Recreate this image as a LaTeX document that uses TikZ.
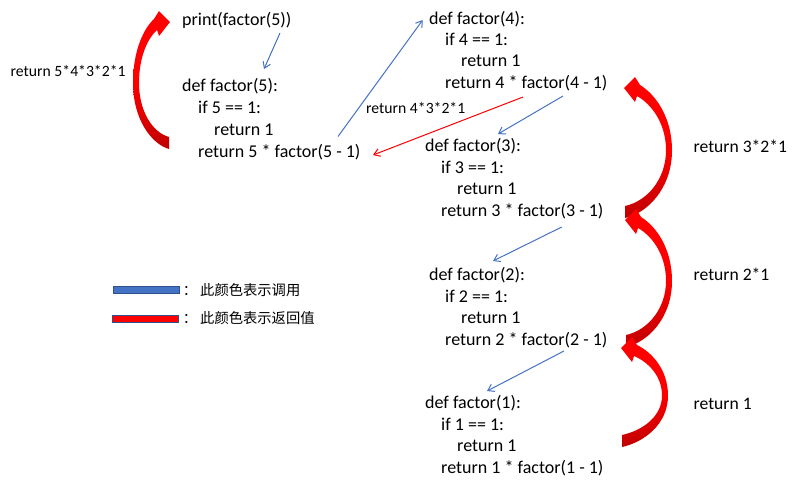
\documentclass[tikz,border=0pt]{standalone}
\usepackage{fontspec}
\setmainfont{Carlito}
\newfontfamily\cjk{Noto Sans CJK SC}
\usetikzlibrary{arrows.meta}
\definecolor{callblue}{RGB}{68,114,196}
\definecolor{edgeblue}{RGB}{47,82,143}
\definecolor{tailred}{RGB}{192,0,0}
% curved block arrow: #1 tip x, #2 tip y, #3 tail bottom y, #4 bulge x, #5 side (+1 right, -1 left)
\newcommand\redarc[5]{%
 \pgfmathsetmacro\RAa{#1}%
 \pgfmathsetmacro\RAb{#2}%
 \pgfmathsetmacro\RAc{#3}%
 \pgfmathsetmacro\RAd{#4}%
 \pgfmathsetmacro\RAs{#5}%
 \pgfmathsetmacro\RAm{\RAb+0.48*(\RAc-\RAb)}%
 \pgfmathsetmacro\RAnox{\RAa+16*\RAs}%
 \pgfmathsetmacro\RAnoy{\RAb-3}%
 \pgfmathsetmacro\RAnix{\RAa+13*\RAs}%
 \pgfmathsetmacro\RAniy{\RAb+8}%
 \pgfmathsetmacro\RAdi{\RAd-6*\RAs}%
 \pgfmathsetmacro\RAtx{\RAa+\RAs}%
 \pgfmathsetmacro\RAhx{\RAa+0.5*(\RAd-\RAa)}%
 \path[redgrad] (\RAa,\RAb) -- ({\RAa+11*\RAs},{\RAb-11}) -- (\RAnox,\RAnoy)
   .. controls ({\RAnox+0.5*(\RAd-\RAnox)},{\RAnoy+0.15*(\RAm-\RAnoy)}) and (\RAd,{\RAm-0.5*(\RAm-\RAnoy)}) .. (\RAd,\RAm)
   .. controls (\RAd,{\RAm+0.55*(\RAc-\RAm)}) and (\RAhx,{\RAc-5}) .. (\RAtx,\RAc)
   -- (\RAtx,{\RAc-12})
   .. controls (\RAhx,{\RAc-17}) and (\RAdi,{\RAm+0.5*(\RAc-12-\RAm)}) .. (\RAdi,\RAm)
   .. controls (\RAdi,{\RAm-0.5*(\RAm-\RAniy)}) and ({\RAnix+0.5*(\RAdi-\RAnix)},{\RAniy+0.15*(\RAm-\RAniy)}) .. (\RAnix,\RAniy)
   -- ({\RAa+11*\RAs},{\RAb+14}) -- cycle;
}
\begin{document}
\begin{tikzpicture}[x=1pt,y=-1pt,
  code/.style={anchor=base west,inner sep=0pt,font=\fontsize{18}{22}\selectfont},
  lbl/.style={anchor=base west,inner sep=0pt,font=\fontsize{15.7}{19}\selectfont},
  rlbl/.style={anchor=base west,inner sep=0pt,font=\fontsize{17.6}{21}\selectfont},
  leg/.style={anchor=base west,inner sep=0pt,font=\cjk\fontsize{14.3}{17}\selectfont},
  legbar/.style={line width=1pt,draw=edgeblue,minimum width=66pt,minimum height=6.6pt,inner sep=0pt,outer sep=0pt,anchor=north west},
  call/.style={draw=callblue,line width=1pt,-{Straight Barb[length=6pt,width=8pt]}},
  ret/.style={draw=red,line width=1pt,-{Straight Barb[length=6pt,width=8pt]}},
  redgrad/.style={top color=red,bottom color=tailred,middle color=red}]
\useasboundingbox (0,0) rectangle (792,483);

% code blocks
\node[code] (p5) at (182,25.7) {print(factor(5))};
\node[code] (f5a) at (182,91) {def factor(5):};
\node[code] (f5b) at (198,113) {if 5 == 1:};
\node[code] (f5c) at (214,135) {return 1};
\node[code] (f5d) at (198,157) {return 5 * factor(5 - 1)};

\node[code] (f4a) at (429,24) {def factor(4):};
\node[code] (f4b) at (445,45.3) {if 4 == 1:};
\node[code] (f4c) at (461,66.6) {return 1};
\node[code] (f4d) at (445,88) {return 4 * factor(4 - 1)};

\node[code] (f3a) at (425,151.7) {def factor(3):};
\node[code] (f3b) at (441,173) {if 3 == 1:};
\node[code] (f3c) at (457,194.5) {return 1};
\node[code] (f3d) at (441,216) {return 3 * factor(3 - 1)};

\node[code] (f2a) at (429,280.7) {def factor(2):};
\node[code] (f2b) at (445,302) {if 2 == 1:};
\node[code] (f2c) at (461,323.5) {return 1};
\node[code] (f2d) at (445,345) {return 2 * factor(2 - 1)};

\node[code] (f1a) at (425,408) {def factor(1):};
\node[code] (f1b) at (441,430) {if 1 == 1:};
\node[code] (f1c) at (457,451.5) {return 1};
\node[code] (f1d) at (441,473) {return 1 * factor(1 - 1)};

% return labels
\node[lbl] (r5) at (10.5,76.7) {return 5*4*3*2*1};
\node[lbl] (r4) at (366,113) {return 4*3*2*1};
\node[rlbl] (r3) at (693.5,152.3) {return 3*2*1};
\node[rlbl] (r2) at (693.5,280.7) {return 2*1};
\node[rlbl] (r1) at (693.5,409.3) {return 1};

% call / return connectors
\draw[call] ([shift={(98,7.3)}]p5.base west) -- ([shift={(82,-22)}]f5a.base west);
\draw[call] ([shift={(140,-20.5)}]f5d.base west) -- ([shift={(-6.3,-4)}]f4a.base west);
\draw[ret] ([shift={(78,9)}]f4d.base west) -- ([shift={(175,-2)}]f5d.base west);
\draw[call] ([shift={(118,8)}]f4d.base west) -- ([shift={(73,-17.7)}]f3a.base west);
\draw[call] ([shift={(120.7,11)}]f3d.base west) -- ([shift={(64,-19.7)}]f2a.base west);
\draw[call] ([shift={(119,6)}]f2d.base west) -- ([shift={(62,-17)}]f1a.base west);

% curved return arrows
\redarc{170}{22}{149}{133}{-1}
\redarc{624}{88}{218}{672}{1}
\redarc{625}{220}{347}{672}{1}
\redarc{621}{348}{447}{668}{1}

% legend
\node[legbar,fill=callblue] (legcall) at (113.3,286.7) {};
\node[leg,anchor=base] (colon1) at (190,295) {：};
\node[leg] (legt1) at (200,295) {此颜色表示调用};
\node[legbar,fill=red] (legret) at (112.3,315.7) {};
\node[leg,anchor=base] (colon2) at (190,323.5) {：};
\node[leg] (legt2) at (200,323.5) {此颜色表示返回值};
\end{tikzpicture}
\end{document}
